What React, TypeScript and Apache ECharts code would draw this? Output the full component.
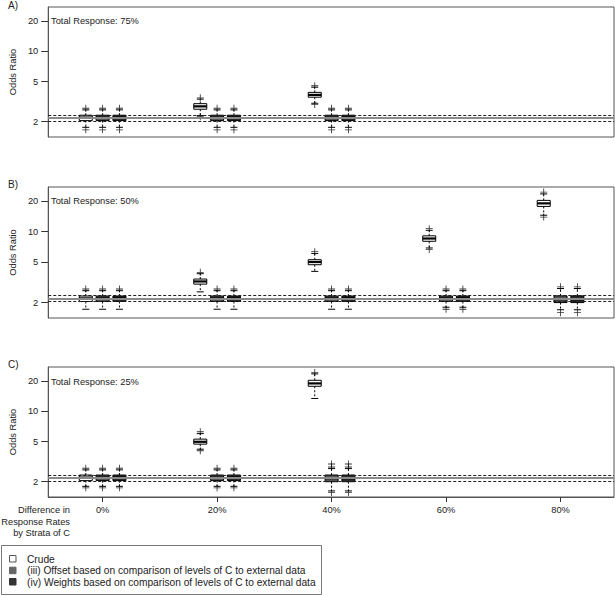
import React, { useEffect, useRef } from "react";
import * as echarts from "echarts";

const groups = ["0%", "20%", "40%", "60%", "80%"];
const methods = [
  "Crude",
  "(iii) Offset based on comparison of levels of C to external data",
  "(iv) Weights based on comparison of levels of C to external data",
];
const methodColors = ["#ffffff", "#555555", "#2a2a2a"];
const legendColors = ["#ffffff", "#666666", "#333333"];
const panelLabels = ["A)", "B)", "C)"];
const panelTitles = ["Total Response: 75%", "Total Response: 50%", "Total Response: 25%"];
const yTicks = [2, 5, 10, 20];
const refSolid = 2.2;
const refDashed = [2.02, 2.37];

// [low whisker, Q1, median, Q3, high whisker] per group; null = not shown
const aCrude = [[1.76, 2.05, 2.2, 2.32, 2.62], [2.3, 2.66, 2.84, 3.02, 3.35], [3.05, 3.5, 3.69, 3.91, 4.4], null, null];
const aOffset = [[1.76, 2.05, 2.2, 2.32, 2.62], [1.76, 2.05, 2.2, 2.32, 2.62], [1.76, 2.05, 2.2, 2.32, 2.62], null, null];
const aWeights = [[1.76, 2.05, 2.2, 2.32, 2.62], [1.76, 2.05, 2.2, 2.32, 2.62], [1.76, 2.05, 2.2, 2.32, 2.62], null, null];
const bCrude = [[1.72, 2.05, 2.2, 2.32, 2.62], [2.55, 3.04, 3.23, 3.41, 3.85], [4.06, 4.72, 5.02, 5.29, 6.1], [6.9, 8.03, 8.55, 9.09, 10.3], [14.5, 17.7, 18.97, 20.3, 23.5]];
const bOffset = [[1.72, 2.05, 2.2, 2.32, 2.62], [1.72, 2.05, 2.2, 2.32, 2.62], [1.72, 2.05, 2.2, 2.32, 2.62], [1.8, 2.05, 2.2, 2.32, 2.62], [1.7, 2.0, 2.16, 2.33, 2.75]];
const bWeights = [[1.72, 2.05, 2.2, 2.32, 2.62], [1.72, 2.05, 2.2, 2.32, 2.62], [1.72, 2.05, 2.2, 2.32, 2.62], [1.8, 2.05, 2.2, 2.32, 2.62], [1.7, 2.0, 2.16, 2.33, 2.75]];
const cCrude = [[1.8, 2.05, 2.2, 2.33, 2.62], [4.2, 4.72, 4.98, 5.29, 6.0], [13.4, 17.7, 18.9, 20.3, 23.5], null, null];
const cOffset = [[1.8, 2.05, 2.2, 2.33, 2.62], [1.8, 2.05, 2.2, 2.33, 2.62], [1.62, 2.0, 2.17, 2.33, 2.7], null, null];
const cWeights = [[1.8, 2.05, 2.2, 2.33, 2.62], [1.8, 2.05, 2.2, 2.33, 2.62], [1.62, 2.0, 2.17, 2.33, 2.7], null, null];

// outliers per group
const aCrudeOut = [[2.72, 1.66], [3.45, 2.24], [4.55, 2.97], [], []];
const aOffsetOut = [[2.72, 1.66], [2.72, 1.66], [2.72, 1.66], [], []];
const aWeightsOut = [[2.72, 1.66], [2.72, 1.66], [2.72, 1.66], [], []];
const bCrudeOut = [[2.72], [3.97], [6.35], [10.7, 6.65], [24.5, 13.9]];
const bOffsetOut = [[2.72], [2.72], [2.72], [2.72, 1.72], [2.86, 1.59]];
const bWeightsOut = [[2.72], [2.72], [2.72], [2.72, 1.72], [2.86, 1.59]];
const cCrudeOut = [[2.72, 1.74], [6.26, 4.06], [24.2], [], []];
const cOffsetOut = [[2.72, 1.74], [2.72, 1.74], [2.8, 3.0, 1.56], [], []];
const cWeightsOut = [[2.72, 1.74], [2.72, 1.74], [2.8, 3.0, 1.56], [], []];

const panelBoxes = [
  [aCrude, aOffset, aWeights],
  [bCrude, bOffset, bWeights],
  [cCrude, cOffset, cWeights],
];
const panelOutliers = [
  [aCrudeOut, aOffsetOut, aWeightsOut],
  [bCrudeOut, bOffsetOut, bWeightsOut],
  [cCrudeOut, cOffsetOut, cWeightsOut],
];

const L = (v: number) => Math.log10(v);
const FONT = "'Liberation Sans', Arial, sans-serif";
const methodOffset = [-0.147, 0, 0.147];
const gridTops = [7, 187, 367];
const gridHeights = [130, 131, 130];
const titleY = [21, 201, 382];
const labelY = [5, 184, 364];

function buildOption() {
  const grids: any[] = [];
  const xAxes: any[] = [];
  const yAxes: any[] = [];
  const series: any[] = [];
  const graphic: any[] = [];

  for (let p = 0; p < 3; p++) {
    grids.push({
      left: 42,
      top: gridTops[p],
      width: 572,
      height: gridHeights[p],
      show: true,
      borderColor: "#555",
      borderWidth: 1,
      backgroundColor: "transparent",
    });
    const isBottom = p === 2;
    xAxes.push({
      type: "value",
      gridIndex: p,
      min: -0.475,
      max: 4.467,
      show: isBottom,
      splitLine: { show: false },
      axisLine: { show: true, onZero: false, lineStyle: { color: "#555" } },
      axisTick: {
        show: true,
        customValues: [0, 1, 2, 3, 4],
        length: 5,
        lineStyle: { color: "#333" },
      },
      axisLabel: {
        customValues: [0, 1, 2, 3, 4],
        formatter: (v: number) => groups[Math.round(v)],
        margin: 8,
        fontSize: 9.3,
        color: "#222",
        fontFamily: FONT,
      },
    });
    yAxes.push({
      type: "value",
      gridIndex: p,
      min: L(1.41),
      max: L(27.5),
      name: "Odds Ratio",
      nameLocation: "middle",
      nameGap: 20,
      nameTextStyle: { fontSize: 9.3, color: "#222", fontFamily: FONT },
      splitLine: { show: false },
      axisLine: { show: true, onZero: false, lineStyle: { color: "#555" } },
      axisTick: {
        show: true,
        customValues: yTicks.map(L),
        length: 7,
        lineStyle: { color: "#333" },
      },
      axisLabel: {
        customValues: yTicks.map(L),
        formatter: (v: number) => String(Math.round(Math.pow(10, v))),
        margin: 10,
        fontSize: 9.3,
        color: "#222",
        fontFamily: FONT,
      },
    });

    // reference lines
    series.push({
      type: "line",
      xAxisIndex: p,
      yAxisIndex: p,
      data: [],
      z: 1,
      silent: true,
      markLine: {
        silent: true,
        symbol: "none",
        label: { show: false },
        animation: false,
        data: [
          { yAxis: L(refSolid), lineStyle: { color: "#8a8a8a", width: 2, type: "solid" } },
          ...refDashed.map((v) => ({
            yAxis: L(v),
            lineStyle: { color: "#222", width: 1, type: [3, 2] },
          })),
        ],
      },
    });

    for (let m = 0; m < 3; m++) {
      const boxes = panelBoxes[p][m];
      const data: any[] = [];
      boxes.forEach((b, g) => {
        if (!b) return;
        data.push([g + methodOffset[m], ...b.map(L)]);
      });
      const fill = methodColors[m];
      series.push({
        type: "custom",
        xAxisIndex: p,
        yAxisIndex: p,
        z: 3,
        silent: true,
        encode: { x: 0, y: [1, 2, 3, 4, 5] },
        itemStyle: { color: fill },
        data,
        renderItem: (params: any, api: any) => {
          const x = api.value(0);
          const lo = api.coord([x, api.value(1)]);
          const q1 = api.coord([x, api.value(2)]);
          const md = api.coord([x, api.value(3)]);
          const q3 = api.coord([x, api.value(4)]);
          const hi = api.coord([x, api.value(5)]);
          const cx = lo[0];
          const hw = 6.5;
          const cw = 3.5;
          const dash = { stroke: "#000", lineWidth: 1, lineDash: [2, 2] };
          const solid = { stroke: "#000", lineWidth: 1 };
          return {
            type: "group",
            children: [
              { type: "line", shape: { x1: cx, y1: q3[1], x2: cx, y2: hi[1] }, style: dash },
              { type: "line", shape: { x1: cx, y1: q1[1], x2: cx, y2: lo[1] }, style: dash },
              { type: "line", shape: { x1: cx - cw, y1: hi[1], x2: cx + cw, y2: hi[1] }, style: solid },
              { type: "line", shape: { x1: cx - cw, y1: lo[1], x2: cx + cw, y2: lo[1] }, style: solid },
              {
                type: "rect",
                shape: { x: cx - hw, y: q3[1], width: 2 * hw, height: q1[1] - q3[1] },
                style: { fill: fill, stroke: "#000", lineWidth: 1 },
              },
              {
                type: "line",
                shape: { x1: cx - hw, y1: md[1], x2: cx + hw, y2: md[1] },
                style: { stroke: "#000", lineWidth: 2.2 },
              },
            ],
          };
        },
      });

      const outs: any[] = [];
      panelOutliers[p][m].forEach((arr, g) => {
        arr.forEach((v) => outs.push([g + methodOffset[m], L(v)]));
      });
      series.push({
        type: "scatter",
        xAxisIndex: p,
        yAxisIndex: p,
        z: 4,
        silent: true,
        symbol: "path://M4.4,0H5.6V10H4.4ZM0,4.4H10V5.6H0Z",
        symbolSize: 7,
        itemStyle: { color: "#000" },
        data: outs,
      });
    }

    graphic.push({
      type: "text",
      x: 8,
      y: labelY[p],
      style: { text: panelLabels[p], fontSize: 10, fill: "#222", fontFamily: FONT, verticalAlign: "middle" },
    });
    graphic.push({
      type: "text",
      x: 51,
      y: titleY[p],
      style: { text: panelTitles[p], fontSize: 9.3, fill: "#222", fontFamily: FONT, verticalAlign: "middle" },
    });
  }

  graphic.push({
    type: "text",
    x: 70,
    y: 504.5,
    style: {
      text: "Difference in\nResponse Rates\nby Strata of C",
      fontSize: 9.3,
      lineHeight: 11.5,
      fill: "#222",
      fontFamily: FONT,
      align: "right",
      verticalAlign: "top",
    },
  });

  // legend
  graphic.push({
    type: "rect",
    shape: { x: 1.5, y: 545.5, width: 320, height: 49 },
    style: { fill: "none", stroke: "#777", lineWidth: 1 },
  });
  const legY = [559, 570.7, 582];
  methods.forEach((name, i) => {
    graphic.push({
      type: "rect",
      shape: { x: 9.5, y: legY[i] - 3.5, width: 6.5, height: 6.5 },
      style: { fill: legendColors[i], stroke: i === 0 ? "#555" : legendColors[i], lineWidth: 1 },
    });
    graphic.push({
      type: "text",
      x: 27,
      y: legY[i],
      style: { text: name, fontSize: 10.2, fill: "#222", fontFamily: FONT, verticalAlign: "middle" },
    });
  });

  return {
    animation: false,
    backgroundColor: "#ffffff",
    textStyle: { fontFamily: FONT },
    grid: grids,
    xAxis: xAxes,
    yAxis: yAxes,
    series,
    graphic,
  };
}

export default function App() {
  const ref = useRef<HTMLDivElement>(null);
  useEffect(() => {
    if (!ref.current) return;
    const chart = echarts.init(ref.current, undefined, { renderer: "svg" });
    chart.setOption(buildOption() as any);
    return () => chart.dispose();
  }, []);
  return (
    <div
      ref={ref}
      style={{ position: "fixed", left: 0, top: 0, width: 615, height: 596, background: "#fff" }}
    />
  );
}
